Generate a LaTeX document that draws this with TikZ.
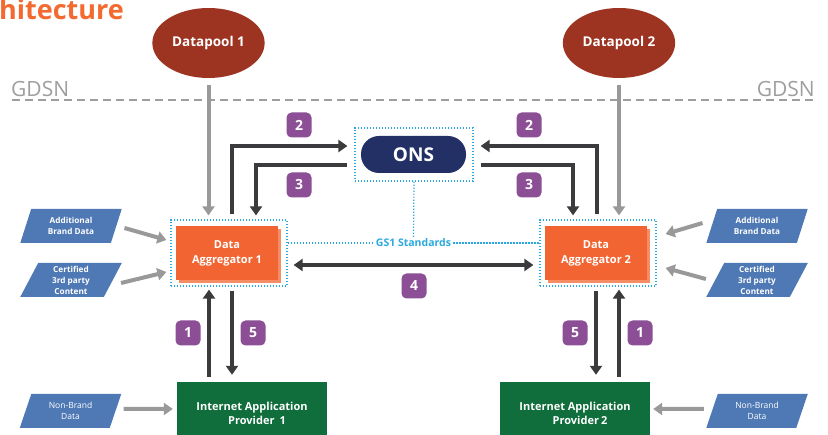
\documentclass[tikz,border=0pt]{standalone}
\usepackage{fontspec}
\setmainfont{Open Sans}
\usetikzlibrary{arrows.meta,shapes.geometric,calc,shadows}

\definecolor{titleorange}{HTML}{F26A30}
\definecolor{dpred}{HTML}{9D3422}
\definecolor{onsnavy}{HTML}{233065}
\definecolor{badgepurple}{HTML}{8C4F96}
\definecolor{daorange}{HTML}{F26532}
\definecolor{dashadow}{HTML}{F58D66}
\definecolor{iapgreen}{HTML}{0F6E3B}
\definecolor{inblue}{HTML}{4F79B5}
\definecolor{grayarrow}{HTML}{999999}
\definecolor{darkarrow}{HTML}{3B3B3D}
\definecolor{gscyan}{HTML}{2AA9E0}
\definecolor{gdsngray}{HTML}{9E9E9E}

\begin{document}
\begin{tikzpicture}[x=1pt,y=-1pt,
  darrow/.style={draw=darkarrow, line width=4.2pt, -{Triangle[width=12pt,length=9pt]}},
  garrow/.style={draw=grayarrow, line width=4pt, -{Triangle[width=12pt,length=9pt]}},
  badge/.style={fill=badgepurple, rounded corners=5pt, minimum size=25pt, inner sep=0pt,
    text=white, font=\bfseries\fontsize{14}{14}\selectfont},
  inbox/.style={trapezium, trapezium left angle=70, trapezium right angle=110,
    trapezium stretches=true, fill=inblue, minimum width=102pt, minimum height=34pt,
    inner sep=0pt, text=white, align=center},
  gsdot/.style={draw=gscyan, line width=1.2pt, dash pattern=on 1.4pt off 1.6pt},
  pool/.style={ellipse, fill=dpred, minimum width=103pt, minimum height=70pt,
    text=white, font=\bfseries\fontsize{13.5}{14}\selectfont},
  aggr/.style={rectangle, fill=daorange, minimum width=102pt, minimum height=54pt,
    text=white, align=center, font=\bfseries\fontsize{11}{15}\selectfont,
    drop shadow={fill=dashadow, opacity=1, shadow xshift=2.6pt, shadow yshift=-2.6pt}},
  dotbox/.style={gsdot, minimum width=116pt, minimum height=66pt},
  iap/.style={rectangle, fill=iapgreen, minimum width=150pt, minimum height=62pt,
    text=white, align=center, font=\bfseries\fontsize{11}{14}\selectfont},
  gdsn/.style={text=gdsngray, font=\fontsize{21}{21}\selectfont, inner sep=0pt}
]
\useasboundingbox (0,0) rectangle (828,435);

% heading
\node[anchor=base west, inner sep=0pt, text=titleorange,
  font=\bfseries\fontsize{27}{27}\selectfont] (title) at (-1,20) {hitecture};

% GDSN boundary
\node[gdsn, anchor=west] (gdsnL) at (11,89) {GDSN};
\node[gdsn, anchor=east] (gdsnR) at (815,89) {GDSN};
\coordinate (gl) at (12,100);
\coordinate (gr) at (817,100);
\draw[gdsngray, line width=1.3pt, dash pattern=on 8pt off 5pt] (gl) -- (gr);

% data pools
\node[pool] (dp1) at (208.5,43) {Datapool 1};
\node[pool] (dp2) at (619,43) {Datapool 2};

% ONS
\node[gsdot, minimum width=118pt, minimum height=53pt] (onsbox) at (414,154.5) {};
\node[fill=onsnavy, rounded corners=18pt, minimum width=105pt, minimum height=37pt,
  text=white, font=\bfseries\fontsize{19}{19}\selectfont] (ons) at (413.5,154.5) {ONS};

% data aggregators
\node[dotbox] (da1box) at (229,253) {};
\node[aggr] (da1) at (227,253) {Data\\Aggregator 1};
\node[dotbox] (da2box) at (598,253) {};
\node[aggr] (da2) at (596,253) {Data\\Aggregator 2};

% GS1 standards link
\node[text=gscyan, font=\bfseries\fontsize{10.5}{10.5}\selectfont, inner sep=2pt] (gs1) at (413.5,243) {GS1 Standards};
\draw[gsdot] (da1box.east |- gs1.west) -- (gs1.west);
\draw[gsdot] (gs1.east) -- (da2box.west |- gs1.east);
\draw[gsdot] (onsbox.south) -- (gs1.north);

% internet application providers
\node[iap] (iap1) at (252,413) {Internet Application\\\hspace*{10pt}Provider\hspace{5pt}1};
\node[iap] (iap2) at (575,413) {Internet Application\\\hspace*{10pt}Provider\hspace{2pt}2};

% inputs
\node[inbox, font=\bfseries\fontsize{8.2}{11}\selectfont] (ab1) at (71,226) {Additional\\Brand Data};
\node[inbox, font=\bfseries\fontsize{8.2}{11}\selectfont] (ce1) at (71,280) {Certified\\3rd party\\Content};
\node[inbox, font=\fontsize{8.5}{11}\selectfont] (nb1) at (70.5,411) {Non-Brand\\Data};
\node[inbox, font=\bfseries\fontsize{8.2}{11}\selectfont] (ab2) at (757,226) {Additional\\Brand Data};
\node[inbox, font=\bfseries\fontsize{8.2}{11}\selectfont] (ce2) at (757,280) {Certified\\3rd party\\Content};
\node[inbox, font=\fontsize{8.5}{11}\selectfont] (nb2) at (757,411) {Non-Brand\\Data};

% feeds into the network
\draw[garrow] ($(dp1.south)+(0,7)$) -- ($(dp1.south |- da1box.north)+(0,-4)$);
\draw[garrow] ($(dp2.south)+(0,7)$) -- ($(dp2.south |- da2box.north)+(0,-4)$);
\draw[garrow] ($(ab1.east)+(8,2)$) -- ($(da1box.west)+(-4,-13)$);
\draw[garrow] ($(ce1.east)+(8,3)$) -- ($(da1box.west)+(-4,19)$);
\draw[garrow] ($(ab2.west)+(-9,-3)$) -- ($(da2box.east)+(9,-19)$);
\draw[garrow] ($(ce2.west)+(-9,-1)$) -- ($(da2box.east)+(9,15)$);
\draw[garrow] ($(nb1.east)+(8,-2)$) -- ($(iap1.west)+(-4,-4)$);
\draw[garrow] ($(nb2.west)+(-8,-2)$) -- ($(iap2.east)+(3,-4)$);

% ONS lookups
\draw[darrow] ($(da1box.north)+(3,-5)$) |- ($(onsbox.west)+(-7,-8.5)$);
\draw[darrow] ($(onsbox.west)+(-7,10.5)$) -| ($(da1box.north)+(27,-4)$);
\draw[darrow] ($(da2box.north)+(-1,-5)$) |- ($(onsbox.east)+(7,-8.5)$);
\draw[darrow] ($(onsbox.east)+(7,10.5)$) -| ($(da2box.north)+(-25,-4)$);

% aggregator synchronisation
\draw[darrow, {Triangle[width=12pt,length=9pt]}-{Triangle[width=12pt,length=9pt]}]
  ($(da1box.east)+(6,12)$) -- ($(da2box.west)+(-6,12)$);

% provider requests and responses
\draw[darrow] ($(iap1.north)+(-43,-5)$) -- ($(da1box.south)+(-20,3)$);
\draw[darrow] ($(da1box.south)+(3,4)$) -- ($(iap1.north)+(-20,-7)$);
\draw[darrow] ($(da2box.south)+(-2,4)$) -- ($(iap2.north)+(21,-7)$);
\draw[darrow] ($(iap2.north)+(44,-5)$) -- ($(da2box.south)+(21,3)$);

% step badges
\node[badge] (b2l) at (299,125) {2};
\node[badge] (b3l) at (299,185) {3};
\node[badge] (b2r) at (529,125) {2};
\node[badge] (b3r) at (529,185) {3};
\node[badge] (b4) at (414,286) {4};
\node[badge] (b1l) at (188,333) {1};
\node[badge] (b5l) at (253,333) {5};
\node[badge] (b5r) at (575,333) {5};
\node[badge] (b1r) at (640,333) {1};
\end{tikzpicture}
\end{document}
